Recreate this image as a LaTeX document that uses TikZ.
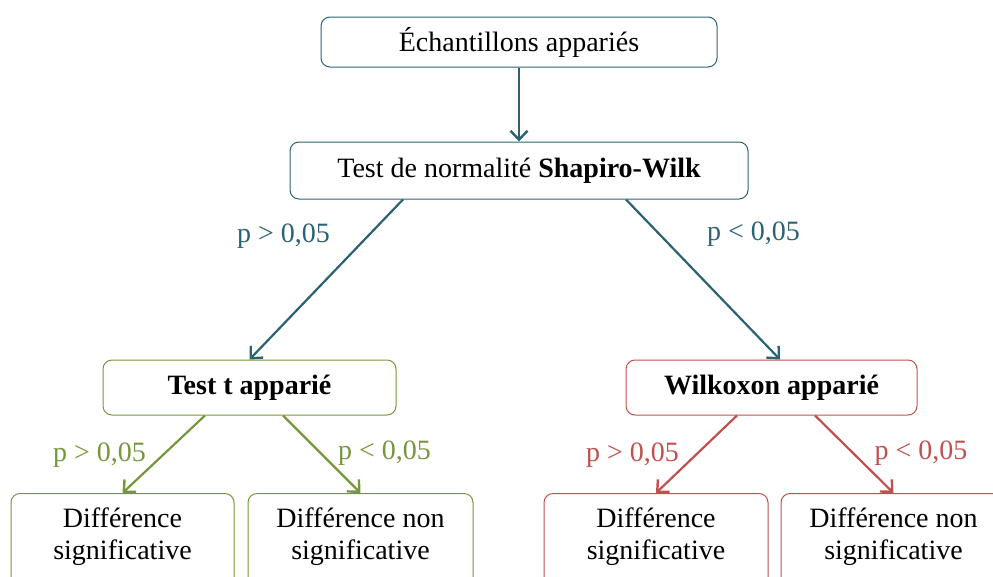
\documentclass[tikz,border=0pt]{standalone}
\usepackage{fontspec}
\setmainfont{Liberation Serif}
\usetikzlibrary{calc,arrows.meta}
\definecolor{teal1}{HTML}{2A6274}
\definecolor{green1}{HTML}{76963C}
\definecolor{red1}{HTML}{C0504D}
\tikzset{
  box/.style={draw, rounded corners=9pt, line width=1pt, inner sep=0pt, align=center,
    font=\fontsize{28}{32}\selectfont, text=black},
  arr/.style={line width=2.2pt, -{Straight Barb[length=9pt,width=17pt,line width=2.4pt]}},
  lab/.style={font=\fontsize{28}{32}\selectfont, inner sep=0pt},
  bot/.style={align=center, font=\fontsize{28}{32}\selectfont}
}
\begin{document}
\begin{tikzpicture}[x=1pt,y=-1pt]
\useasboundingbox (0,0) rectangle (993,576);
\clip (0,0) rectangle (993,576);
\node[box, draw=teal1, minimum width=396pt, minimum height=50pt] (ech) at (519,42) {Échantillons appariés};
\node[box, draw=teal1, minimum width=458pt, minimum height=57pt] (sw) at (519,170.5) {Test de normalité \textbf{Shapiro-Wilk}};
\node[box, draw=green1, minimum width=293pt, minimum height=55pt] (tt) at (249.5,387.5) {\textbf{Test t apparié}};
\node[box, draw=red1, minimum width=291pt, minimum height=55pt] (wk) at (771.5,387.5) {\textbf{Wilkoxon apparié}};
\node[box, draw=green1, minimum width=223pt, minimum height=100pt, anchor=north] (g1) at (122.5,493) {};
\node[bot] (g1t) at (122.5,537) {Différence\\significative};
\node[box, draw=green1, minimum width=225pt, minimum height=100pt, anchor=north] (g2) at (360.5,493) {};
\node[bot] (g2t) at (360.5,537) {Différence non\\significative};
\node[box, draw=red1, minimum width=224pt, minimum height=100pt, anchor=north] (r1) at (656,493) {};
\node[bot] (r1t) at (656,537) {Différence\\significative};
\node[box, draw=red1, minimum width=225pt, minimum height=100pt, anchor=north] (r2) at (893.5,493) {};
\node[bot] (r2t) at (893.5,537) {Différence non\\significative};

\draw[arr, teal1] (ech.south) -- (sw.north);
\draw[arr, teal1] ($(sw.south)+(-116,0)$) -- (tt.north);
\draw[arr, teal1] ($(sw.south)+(107,0)$) -- ($(wk.north)+(8.5,0)$);
\draw[arr, green1] ($(tt.south)+(-44.5,0)$) -- (g1.north);
\draw[arr, green1] ($(tt.south)+(33.5,0)$) -- (g2.north);
\draw[arr, red1] ($(wk.south)+(-34.5,0)$) -- (r1.north);
\draw[arr, red1] ($(wk.south)+(43.5,0)$) -- (r2.north);

\node[lab, text=teal1] (l1) at (283.5,236) {p > 0,05};
\node[lab, text=teal1] (l2) at (753.5,234) {p < 0,05};
\node[lab, text=green1] (l3) at (99.5,455) {p > 0,05};
\node[lab, text=green1] (l4) at (384.5,453) {p < 0,05};
\node[lab, text=red1] (l5) at (632.5,455) {p > 0,05};
\node[lab, text=red1] (l6) at (921,453) {p < 0,05};
\end{tikzpicture}
\end{document}
